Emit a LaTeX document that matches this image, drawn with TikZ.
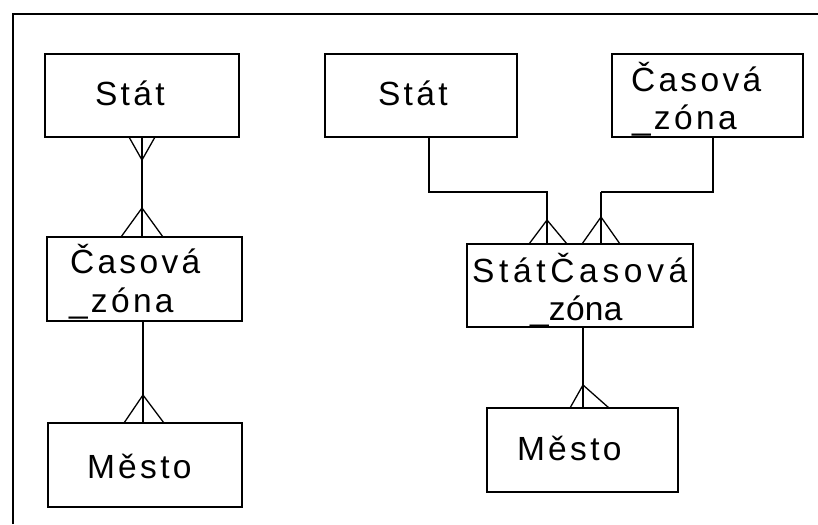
\documentclass[tikz,border=0pt]{standalone}
\usepackage{fontspec}
\setmainfont{Liberation Sans}
\newfontfamily\wide{Liberation Sans}[LetterSpace=10]
\newfontfamily\wider{Liberation Sans}[LetterSpace=14]
\newfontfamily\narrow{Liberation Sans}[LetterSpace=1]
\begin{document}
\begin{tikzpicture}[x=1pt,y=-1pt,
  box/.style={draw, line width=1.5pt, inner sep=0pt, outer sep=0pt},
  lbl/.style={anchor=base west, inner sep=0pt, outer sep=0pt, font=\wide\fontsize{33.5}{38}\selectfont},
  lblw/.style={anchor=base west, inner sep=0pt, outer sep=0pt, font=\wider\fontsize{33.5}{38}\selectfont},
  lbln/.style={anchor=base west, inner sep=0pt, outer sep=0pt, font=\narrow\fontsize{33.5}{38}\selectfont},
  conn/.style={line width=1.3pt},
  foot/.style={line width=1.3pt}]
\useasboundingbox (0,0) rectangle (818,524);
% frame
\draw[line width=2.2pt] (13,524) -- (13,14) -- (300,14);
\draw[line width=2.8pt] (300,14) -- (818,14);

% boxes
\node[box, minimum width=194pt, minimum height=83pt] (s1) at (142,95.5) {};
\node[box, minimum width=195pt, minimum height=84pt] (c1) at (144.5,279) {};
\node[box, minimum width=194pt, minimum height=84pt] (m1) at (145,465) {};
\node[box, minimum width=192pt, minimum height=83pt] (s2) at (421,95.5) {};
\node[box, minimum width=191pt, minimum height=83pt] (c2) at (707.5,95.5) {};
\node[box, minimum width=226pt, minimum height=83pt] (sc) at (580,285.5) {};
\node[box, minimum width=191pt, minimum height=84pt] (m2) at (582.5,450) {};

% texts
\node[lbl] (ts1) at (95,106) {Stát};
\node[lbl] (tc1a) at (70,273) {Časová};
\node[lbl] (tc1b) at (69,312) {\_zóna};
\node[lbl] (tm1) at (87,478) {Město};
\node[lbl] (ts2) at (378,106) {Stát};
\node[lbl] (tc2a) at (631,92) {Časová};
\node[lbl] (tc2b) at (632,129) {\_zóna};
\node[lblw] (tsca) at (472,282) {StátČasová};
\node[lbln] (tscb) at (530,320) {\_zóna};
\node[lbl] (tm2) at (517,460) {Město};

% left column connectors
\coordinate (x1) at (142,0);
\draw[conn] (s1.south -| x1) -- (c1.north -| x1);
\coordinate (j1) at (142,160);
\draw[foot] ([xshift=-13pt]s1.south -| x1) -- (j1) -- ([xshift=13pt]s1.south -| x1);
\coordinate (j2) at (142,208);
\draw[foot] ([xshift=-21pt]c1.north -| x1) -- (j2) -- ([xshift=21pt]c1.north -| x1);

\coordinate (x2) at (143,0);
\draw[conn] (c1.south -| x2) -- (m1.north -| x2);
\coordinate (j3) at (143,395);
\draw[foot] ([xshift=-19pt]m1.north -| x2) -- (j3) -- ([xshift=21pt]m1.north -| x2);

% right column connectors
\coordinate (xa) at (429,0);
\coordinate (xb) at (547,0);
\coordinate (ya) at (0,192);
\draw[conn] (s2.south -| xa) -- (xa |- ya) -- (xb |- ya) -- (sc.north -| xb);
\coordinate (j4) at (547,220);
\draw[foot] ([xshift=-18pt]sc.north -| xb) -- (j4) -- ([xshift=20pt]sc.north -| xb);

\coordinate (xc) at (713,0);
\coordinate (xd) at (601,0);
\draw[conn] (c2.south -| xc) -- (xc |- ya) -- (xd |- ya);
\draw[line width=2.4pt] (xd |- ya) -- (sc.north -| xd);
\coordinate (j5) at (601,217);
\draw[foot] ([xshift=-19pt]sc.north -| xd) -- (j5) -- ([xshift=19pt]sc.north -| xd);

\coordinate (xe) at (583,0);
\draw[conn] (sc.south -| xe) -- (m2.north -| xe);
\coordinate (j6) at (583,385);
\draw[foot] ([xshift=-13pt]m2.north -| xe) -- (j6) -- ([xshift=26pt]m2.north -| xe);
\end{tikzpicture}
\end{document}
